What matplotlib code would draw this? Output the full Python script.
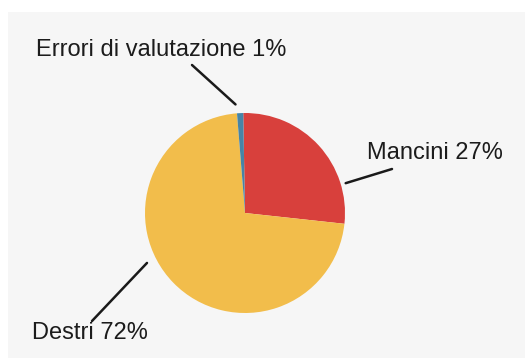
import numpy as np
import matplotlib
matplotlib.use('Agg')
import matplotlib.pyplot as plt
from matplotlib.patches import Rectangle

# 数据
labels = ['Mancini 27%', 'Destri 72%', 'Errori di valutazione 1%']
values = [27, 72, 1]
colors = ['#D8403C', '#F2BD4B', '#4784A6']

plt.rcParams['font.family'] = ['Liberation Sans', 'DejaVu Sans']

W, H = 525, 358
fig = plt.figure(figsize=(W / 100, H / 100), dpi=100)
fig.patch.set_facecolor('white')
fig.patches.append(Rectangle((8 / W, 0), 1, (H - 12) / H, transform=fig.transFigure,
                             facecolor='#F6F6F6', edgecolor='none', zorder=-10))

# pie axes: centre (245, 213) px, radius 100 px
ax = fig.add_axes([145 / W, (H - 313) / H, 200 / W, 200 / H])
ax.pie(values, colors=colors, startangle=91, counterclock=False,
       wedgeprops=dict(linewidth=0))
ax.set_xlim(-1, 1)
ax.set_ylim(-1, 1)
ax.set_aspect('equal')
ax.axis('off')

fs = 17
# label text positions (figure pixels, from top)
fig.text(36 / W, 1 - 50 / H, labels[2], fontsize=fs, ha='left', va='center', color='#1c1c1c')
fig.text(367 / W, 1 - 153 / H, labels[0], fontsize=fs, ha='left', va='center', color='#1c1c1c')
fig.text(32 / W, 1 - 333 / H, labels[1], fontsize=fs, ha='left', va='center', color='#1c1c1c')

# leader lines: from pie edge (angle, radius) to text
leaders = [(95, 1.09, 192, 65), (16.5, 1.05, 392, 169), (207, 1.1, 92, 321)]
for ang, r, tx, ty in leaders:
    a = np.deg2rad(ang)
    ax.annotate('', xy=(r * np.cos(a), r * np.sin(a)), xycoords='data',
                xytext=(tx, H - ty), textcoords='figure pixels',
                arrowprops=dict(arrowstyle='-', color='#1a1a1a', lw=1.8,
                                shrinkA=0, shrinkB=0),
                annotation_clip=False)

plt.savefig('out.png', dpi=100, facecolor=fig.get_facecolor())
